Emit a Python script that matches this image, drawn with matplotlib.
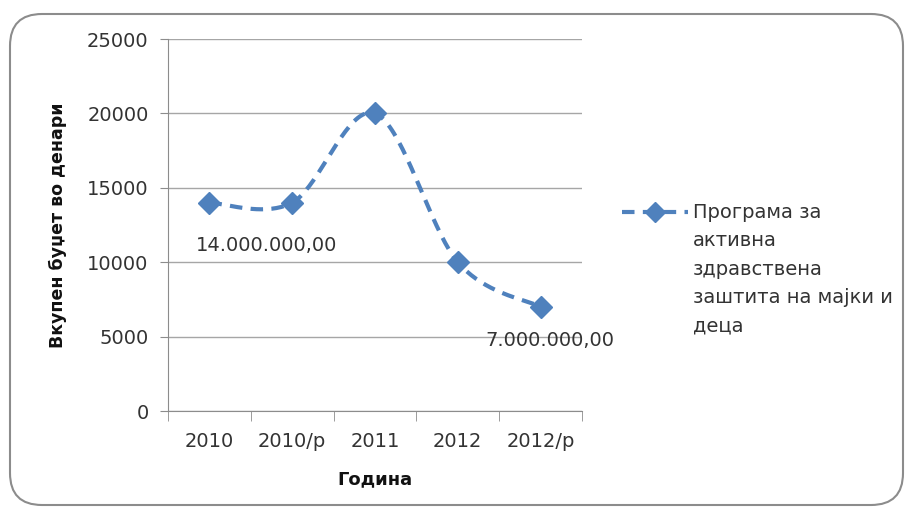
import numpy as np
import matplotlib
matplotlib.use("Agg")
import matplotlib.pyplot as plt
from matplotlib.patches import FancyBboxPatch
from matplotlib.lines import Line2D
from matplotlib.ticker import FixedLocator

categories = ["2010", "2010/р", "2011", "2012", "2012/р"]
values = [14000, 14000, 20000, 10000, 7000]
yticks = [0, 5000, 10000, 15000, 20000, 25000]
label_first = "14.000.000,00"
label_last = "7.000.000,00"
series_name = "Програма за\nактивна\nздравствена\nзаштита на мајки и\nдеца"
y_title = "Вкупен буџет во денари"
x_title = "Година"

color = "#4F81BD"
txt = "#333333"
plt.rcParams['font.family'] = ['DejaVu Sans']

W, H = 913, 511
fig = plt.figure(figsize=(W / 100, H / 100), dpi=100)

# rounded border
border = FancyBboxPatch((10 / W, 6 / H), 893 / W, 491 / H,
                        boxstyle="round,pad=0,rounding_size=0.035",
                        transform=fig.transFigure, fill=False,
                        edgecolor="#8c8c8c", linewidth=1.5, mutation_aspect=W / H)
fig.add_artist(border)

ax = fig.add_axes([168 / W, 1 - 411 / H, 414 / W, 372 / H])

x = np.arange(len(values), dtype=float)
y = np.array(values, dtype=float)

# Excel-like smooth curve (Catmull-Rom / Bezier)
P = np.column_stack([x, y])
ext = np.vstack([P[0], P, P[-1]])
curve = []
t = np.linspace(0, 1, 40)
for i in range(len(P) - 1):
    p0, p1, p2, p3 = ext[i], ext[i + 1], ext[i + 2], ext[i + 3]
    c1 = p1 + (p2 - p0) / 6
    c2 = p2 - (p3 - p1) / 6
    seg = ((1 - t)[:, None] ** 3 * p1 + 3 * ((1 - t) ** 2 * t)[:, None] * c1
           + 3 * ((1 - t) * t ** 2)[:, None] * c2 + (t ** 3)[:, None] * p2)
    curve.append(seg if i == 0 else seg[1:])
curve = np.vstack(curve)

ax.plot(curve[:, 0], curve[:, 1], color=color, linewidth=3, linestyle=(0, (3, 2)), zorder=3)
ax.plot(x, y, linestyle="none", marker="D", markersize=11, color=color, zorder=4)

ax.set_xlim(-0.5, len(values) - 0.5)
ax.set_ylim(0, 25000)
ax.set_yticks(yticks)
ax.set_yticklabels([str(v) for v in yticks])
ax.yaxis.grid(True, color="#a6a6a6", linewidth=1)
ax.set_axisbelow(True)

ax.set_xticks(x)
ax.set_xticklabels(categories)
ax.xaxis.set_minor_locator(FixedLocator(np.arange(-0.5, len(values), 1.0)))
ax.tick_params(axis="x", which="major", length=0, pad=15, labelsize=14, labelcolor=txt)
ax.tick_params(axis="x", which="minor", length=7, color="#8c8c8c", direction="out")
ax.tick_params(axis="y", length=6, color="#8c8c8c", labelsize=14, labelcolor=txt, pad=8)

for s in ["top", "right"]:
    ax.spines[s].set_visible(False)
ax.spines["left"].set_color("#8c8c8c")
ax.spines["bottom"].set_color("#8c8c8c")

ax.set_ylabel(y_title, fontsize=12.5, fontweight="bold", color="#111111", labelpad=14)
ax.set_xlabel(x_title, fontsize=13, fontweight="bold", color="#111111", labelpad=14)

ax.annotate(label_first, xy=(x[0], y[0]), xytext=(-10, -31), textcoords="offset points",
            fontsize=14, color=txt, ha="left", va="center")
ax.annotate(label_last, xy=(x[-1], y[-1]), xytext=(-40, -24), textcoords="offset points",
            fontsize=14, color=txt, ha="left", va="center")

# legend
ly = 1 - 212 / H
fig.add_artist(Line2D([622 / W, 688 / W], [ly, ly], transform=fig.transFigure,
                      color=color, linewidth=3, linestyle=(0, (3, 2))))
fig.add_artist(Line2D([655 / W], [ly], transform=fig.transFigure, marker="D",
                      markersize=10, color=color, linestyle="none"))
fig.text(693 / W, 1 - 203 / H, series_name, fontsize=14, color=txt, ha="left", va="top",
         linespacing=1.62)

fig.savefig("out.png", dpi=100)
